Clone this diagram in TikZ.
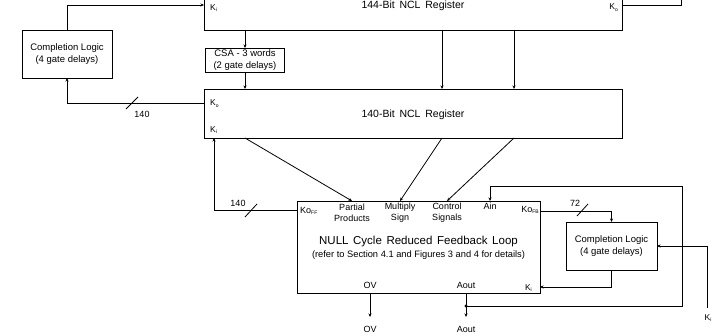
\documentclass[tikz,border=0pt]{standalone}
\usepackage{fontspec}
\setmainfont{Liberation Sans}
\usetikzlibrary{arrows.meta,calc}
\newcommand{\lsub}[1]{\raisebox{-1.8pt}{\fontsize{5}{5}\selectfont #1}}
\newcommand{\regfont}{\fontsize{10.5}{12}\selectfont\spaceskip=4.8pt\relax}
\newcommand{\ttlfont}{\fontsize{11.5}{13}\selectfont\spaceskip=4.6pt\relax}
\tikzset{
  box/.style={draw, line width=0.8pt, inner sep=0pt, outer sep=0pt},
  wire/.style={line width=0.8pt},
  arr/.style={wire, -{Stealth[length=3.5pt,width=3pt]}},
  blk/.style={font=\fontsize{9.5}{12}\selectfont, inner sep=0pt, align=center},
  lab/.style={font=\fontsize{9}{11}\selectfont, inner sep=0pt, align=center},
  small/.style={font=\fontsize{8.5}{10}\selectfont, inner sep=0pt, align=center},
  regtitle/.style={font=\regfont, inner sep=0pt},
}
\begin{document}
\begin{tikzpicture}[x=1pt,y=-1pt]
\useasboundingbox (0,0) rectangle (722,336);
\clip (0,0) rectangle (722,336);
% boxes
\node[box, minimum width=418, minimum height=45] (reg144) at (413,7.5) {};
\node[regtitle] (t144) at (413,6) {144-Bit NCL Register};
\node[box, minimum width=418, minimum height=49] (reg140) at (413,113.5) {};
\node[regtitle] (t140) at (413,115) {140-Bit NCL Register};
\node[box, blk, minimum width=90, minimum height=48] (cl1) at (67,54) {Completion Logic\\(4 gate delays)};
\node[box, blk, minimum width=79, minimum height=24] (csa) at (245,60) {CSA - 3 words\\(2 gate delays)};
\node[box, minimum width=243, minimum height=92] (null) at (418.5,247) {};
\node[box, blk, minimum width=91, minimum height=48] (cl2) at (611.5,246) {Completion Logic\\(4 gate delays)};
% labels
\node[small, anchor=west] (kiA) at (210,8) {K\lsub{i}};
\node[small, anchor=east] (koA) at (618,8) {K\lsub{o}};
\node[small, anchor=west] (koB) at (210,104) {K\lsub{o}};
\node[small, anchor=west] (kiB) at (210,130) {K\lsub{i}};
\node[lab] (n140a) at (142,114) {140};
\node[lab] (n140b) at (238,203) {140};
\node[lab] (n72) at (575,203) {72};
\node[lab, anchor=west] (koff) at (300,211) {Ko\lsub{FF}};
\node[lab] (pp) at (352,213) {Partial\\Products};
\node[lab] (ms) at (400,213) {Multiply\\Sign};
\node[lab] (cs) at (447,213) {Control\\Signals};
\node[lab] (ain) at (490,206) {Ain};
\node[lab, anchor=east] (kofb) at (539,210) {Ko\lsub{FB}};
\node[font=\ttlfont, inner sep=0pt] (ttl) at (418.5,242) {NULL Cycle Reduced Feedback Loop};
\node[font=\fontsize{9.3}{11}\selectfont, inner sep=0pt] (sub) at (418.5,255) {(refer to Section 4.1 and Figures 3 and 4 for details)};
\node[lab] (ovi) at (370,285) {OV};
\node[lab] (aouti) at (466,285) {Aout};
\node[small, anchor=east] (kiC) at (532,288) {K\lsub{i}};
\node[lab] (ovo) at (370,329) {OV};
\node[lab] (aouto) at (466,329) {Aout};
\node[small] (kiext) at (708,318) {K\lsub{i}};
% coordinates
\coordinate (pKiA) at (204,5);
\coordinate (pKoA) at (622,5);
\coordinate (pKoB) at (204,103);
\coordinate (pKiB) at (214,138);
\coordinate (pFF) at (297,210);
\coordinate (dot) at (466,306);
\coordinate (pFB) at (540,211);
\coordinate (pKiC) at (540,287);
\coordinate (pExt) at (707,308);
% connectors
\draw[arr] (cl1.north) |- (pKiA);
\draw[wire] (pKoA) -- ++(59,0) -- ++(0,-15);
\draw[arr] (reg144.south -| csa.north) -- (csa.north);
\draw[arr] (csa.south) -- (reg140.north -| csa.south);
\draw[arr] (reg144.south -| 442,0) -- (reg140.north -| 442,0);
\draw[arr] (reg144.south -| 514,0) -- (reg140.north -| 514,0);
\draw[arr] (pKoB) -| (cl1.south);
\draw[wire] (126,109) -- (138,97);
\draw[arr] (pFF) -| (pKiB);
\draw[wire] (245,217) -- (257,204);
\draw[arr] (reg140.south -| 245,0) -- (null.north -| pp.north);
\draw[arr] (reg140.south -| 442,0) -- (null.north -| ms.north);
\draw[arr] (reg140.south -| 514,0) -- (null.north -| cs.north);
\draw[arr] (null.south -| ovi) -- (370,317);
\draw[arr] (null.south -| aouti) -- (466,317);
\fill (dot) circle (1.6pt);
\draw[arr] (dot) -- ++(216,0) -- ++(0,-120) -| (null.north -| ain);
\draw[arr] (pFB) -| (cl2.north);
\draw[wire] (577,216) -- (588,204);
\draw[arr] (cl2.south) |- (pKiC);
\draw[arr] (pExt) |- (cl2.east);
\end{tikzpicture}
\end{document}
